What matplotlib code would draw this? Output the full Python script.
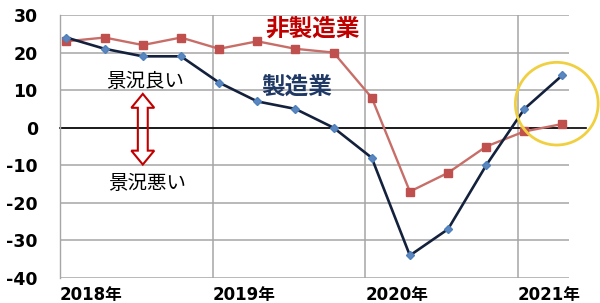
import numpy as np
import matplotlib
matplotlib.use('Agg')
import matplotlib.pyplot as plt
from matplotlib.patches import Ellipse, Polygon

# Quarterly business sentiment (2018Q1 .. 2021Q2)
quarters = np.arange(14)
manufacturing = [24, 21, 19, 19, 12, 7, 5, 0, -8, -34, -27, -10, 5, 14]
non_manufacturing = [23, 24, 22, 24, 21, 23, 21, 20, 8, -17, -12, -5, -1, 1]
year_labels = ['2018年', '2019年', '2020年', '2021年']
year_first_quarter = [0, 4, 8, 12]
y_ticks = [30, 20, 10, 0, -10, -20, -30, -40]

plt.rcParams['font.family'] = ['DejaVu Sans', 'Noto Sans CJK JP']

fig = plt.figure(figsize=(6.0, 3.03), dpi=100)
ax = fig.add_axes([0.1, 0.0825, 0.8483, 0.868])

GRID = '#a6a6a6'
x_off = -0.17
year_lines = [q + x_off for q in year_first_quarter]

ax.set_xlim(-0.157, 13.17)
ax.set_ylim(-40, 30)

for s in ['top', 'right', 'bottom']:
    ax.spines[s].set_visible(False)
ax.spines['left'].set_color(GRID)
ax.spines['left'].set_linewidth(1.0)

ax.set_yticks(y_ticks)
ax.set_yticklabels([str(v) for v in y_ticks], fontsize=12.5, fontweight='bold')
ax.set_xticks(year_lines)
ax.set_xticklabels(year_labels, fontsize=12, fontweight='bold',
                   family=['DejaVu Sans', 'Noto Sans CJK JP'])
for lbl in ax.get_xticklabels():
    lbl.set_horizontalalignment('left')
ax.tick_params(axis='y', length=0, pad=16)
ax.tick_params(axis='x', length=0, pad=6)
ax.grid(True, color=GRID, linewidth=1.1)
ax.set_axisbelow(True)

# zero line (runs a little past the plot area)
ax.plot([-0.157, 13.62], [0, 0], color='black', lw=1.2, clip_on=False, zorder=2)

ax.plot(quarters, non_manufacturing, color='#c86e69', lw=1.7, zorder=3,
        marker='s', ms=6, mfc='#c0504d', mec='#c0504d')
ax.plot(quarters, manufacturing, color='#14213d', lw=1.9, zorder=4,
        marker='D', ms=4.5, mfc='#5b86c0', mec='#4f81bd')

ax.text(6.44, 26.3, '非製造業', color='#c00000', fontsize=17, fontweight='bold',
        ha='center', va='center', family=['Noto Sans CJK JP'])
ax.text(6.03, 11.0, '製造業', color='#1f3864', fontsize=17, fontweight='bold',
        ha='center', va='center', family=['Noto Sans CJK JP'])
ax.text(2.07, 12.4, '景況良い', color='black', fontsize=14,
        ha='center', va='center', family=['Noto Sans CJK JP'])
ax.text(2.1, -14.9, '景況悪い', color='black', fontsize=14,
        ha='center', va='center', family=['Noto Sans CJK JP'])

# hollow double-headed arrow
cx, top, bot = 2.0, 9.0, -9.8
head_len, head_w, shaft_w = 3.7, 0.30, 0.13
arrow_pts = [
    (cx, top), (cx + head_w, top - head_len), (cx + shaft_w, top - head_len),
    (cx + shaft_w, bot + head_len), (cx + head_w, bot + head_len), (cx, bot),
    (cx - head_w, bot + head_len), (cx - shaft_w, bot + head_len),
    (cx - shaft_w, top - head_len), (cx - head_w, top - head_len),
]
ax.add_patch(Polygon(arrow_pts, closed=True, fill=False, ec='#c00000', lw=1.5, zorder=5))

# highlight circle around the latest readings
ax.add_patch(Ellipse((12.85, 6.4), 2.17, 22.0, fill=False, ec='#f0d040', lw=2.0,
                     clip_on=False, zorder=6))

fig.savefig('out.png', dpi=100)
